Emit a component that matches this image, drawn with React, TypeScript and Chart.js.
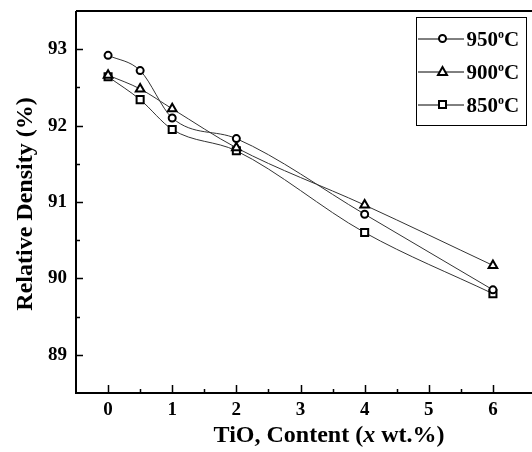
import { useEffect, useRef } from "react";
import { Chart, registerables } from "chart.js";

Chart.register(...registerables);

const contents = [0, 0.5, 1, 2, 4, 6];
const density950 = [92.92, 92.72, 92.1, 91.83, 90.84, 89.85];
const density900 = [92.66, 92.48, 92.22, 91.71, 90.96, 90.17];
const density850 = [92.64, 92.34, 91.95, 91.67, 90.6, 89.8];
const seriesLabels = ["950°C", "900°C", "850°C"];
const xTicks = [0, 1, 2, 3, 4, 5, 6];
const yTicks = [89, 90, 91, 92, 93];
const xTitleParts = ["TiO, Content (", "x", " wt.%)"];
const yTitle = "Relative Density (%)";

const FONT = "'Liberation Serif', 'DejaVu Serif', serif";

function drawMarker(ctx: CanvasRenderingContext2D, style: string, x: number, y: number) {
  ctx.save();
  ctx.lineWidth = 2;
  ctx.strokeStyle = "#000";
  ctx.fillStyle = "#fff";
  ctx.beginPath();
  if (style === "circle") {
    ctx.arc(x, y, 3.5, 0, Math.PI * 2);
  } else if (style === "triangle") {
    ctx.moveTo(x, y - 4.5);
    ctx.lineTo(x + 4.5, y + 3.5);
    ctx.lineTo(x - 4.5, y + 3.5);
    ctx.closePath();
  } else {
    ctx.rect(x - 3.5, y - 3.5, 7, 7);
  }
  ctx.fill();
  ctx.stroke();
  ctx.restore();
}

const framePlugin = {
  id: "frame",
  afterDraw(chart: any) {
    const ctx: CanvasRenderingContext2D = chart.ctx;
    const a = chart.chartArea;
    const xs = chart.scales.x;
    const ys = chart.scales.y;
    ctx.save();
    ctx.strokeStyle = "#000";
    ctx.lineWidth = 2;
    ctx.beginPath();
    ctx.moveTo(a.left, a.top);
    ctx.lineTo(chart.width, a.top);
    ctx.moveTo(a.left, a.top);
    ctx.lineTo(a.left, a.bottom);
    ctx.lineTo(chart.width, a.bottom);
    ctx.stroke();

    ctx.lineWidth = 1.5;
    ctx.beginPath();
    for (let v = 0; v <= 6.0001; v += 0.5) {
      const px = Math.round(xs.getPixelForValue(v)) + 0.5;
      const len = Number.isInteger(v) ? 8 : 4;
      ctx.moveTo(px, a.bottom);
      ctx.lineTo(px, a.bottom - len);
    }
    for (let v = 89; v <= 93.0001; v += 0.5) {
      const py = Math.round(ys.getPixelForValue(v)) + 0.5;
      const len = Number.isInteger(v) ? 7 : 4;
      ctx.moveTo(a.left, py);
      ctx.lineTo(a.left + len, py);
    }
    ctx.stroke();

    // axis titles
    ctx.fillStyle = "#000";
    ctx.textBaseline = "middle";
    ctx.textAlign = "center";
    ctx.save();
    ctx.translate(26, 204);
    ctx.rotate(-Math.PI / 2);
    ctx.font = `bold 24px ${FONT}`;
    ctx.fillText(yTitle, 0, 0);
    ctx.restore();

    const fonts = [`bold 24px ${FONT}`, `italic bold 24px ${FONT}`, `bold 24px ${FONT}`];
    let total = 0;
    const widths = xTitleParts.map((t, i) => {
      ctx.font = fonts[i];
      const w = ctx.measureText(t).width;
      total += w;
      return w;
    });
    let cx = 329 - total / 2;
    ctx.textAlign = "left";
    xTitleParts.forEach((t, i) => {
      ctx.font = fonts[i];
      ctx.fillText(t, cx, 436);
      cx += widths[i];
    });

    // legend
    const bx = 416, by = 17, bw = 110, bh = 108;
    ctx.fillStyle = "#fff";
    ctx.fillRect(bx, by, bw, bh);
    ctx.lineWidth = 1;
    ctx.strokeStyle = "#000";
    ctx.strokeRect(bx + 0.5, by + 0.5, bw, bh);
    const styles = ["circle", "triangle", "rect"];
    chart.data.datasets.forEach((ds: any, i: number) => {
      const cy = 38.5 + i * 33;
      ctx.strokeStyle = "#000";
      ctx.lineWidth = 1;
      ctx.beginPath();
      ctx.moveTo(418, cy + 0.5);
      ctx.lineTo(464, cy + 0.5);
      ctx.stroke();
      drawMarker(ctx, styles[i], 442.5, cy);
      const [main, rest] = String(ds.label).split("°");
      ctx.fillStyle = "#000";
      ctx.textAlign = "left";
      ctx.textBaseline = "alphabetic";
      ctx.font = `bold 21px ${FONT}`;
      let tx = 466.5;
      const base = cy + 7;
      ctx.fillText(main, tx, base);
      tx += ctx.measureText(main).width;
      ctx.font = `bold 12px ${FONT}`;
      ctx.fillText("o", tx, base - 8);
      tx += ctx.measureText("o").width;
      ctx.font = `bold 21px ${FONT}`;
      ctx.fillText(rest, tx, base);
    });
    ctx.restore();
  },
};

export default function App() {
  const ref = useRef<HTMLCanvasElement | null>(null);
  useEffect(() => {
    document.body.style.margin = "0";
    const canvas = ref.current!;
    const mk = (vals: number[]) => contents.map((x, i) => ({ x, y: vals[i] }));
    const common = {
      borderColor: "#333",
      borderWidth: 1,
      pointBackgroundColor: "#fff",
      pointBorderColor: "#000",
      pointBorderWidth: 2,
      cubicInterpolationMode: "monotone",
      fill: false,
    };
    const chart = new Chart(canvas, {
      type: "line",
      data: {
        datasets: [
          { ...common, label: seriesLabels[0], data: mk(density950), pointStyle: "circle", pointRadius: 3.5 },
          { ...common, label: seriesLabels[1], data: mk(density900), pointStyle: "triangle", pointRadius: 5 },
          { ...common, label: seriesLabels[2], data: mk(density850), pointStyle: "rect", pointRadius: 5 },
        ],
      },
      options: {
        animation: false,
        responsive: false,
        maintainAspectRatio: false,
        layout: { padding: { top: 11, left: 0, right: 0, bottom: 0 } },
        plugins: { legend: { display: false }, tooltip: { enabled: false } },
        scales: {
          x: {
            type: "linear",
            min: -0.5,
            max: 6.5,
            grid: { display: false, drawTicks: false },
            border: { display: false },
            afterBuildTicks: (s: any) => {
              s.ticks = xTicks.map((v) => ({ value: v }));
            },
            afterFit: (s: any) => {
              s.height = 59;
              s.paddingLeft = 0;
              s.paddingRight = 0;
            },
            ticks: {
              color: "#000",
              padding: 6,
              maxRotation: 0,
              autoSkip: false,
              font: { family: FONT, size: 19, weight: "bold" },
              callback: (v: any) => String(v),
            },
          },
          y: {
            type: "linear",
            min: 88.5,
            max: 93.5,
            grid: { display: false, drawTicks: false },
            border: { display: false },
            afterBuildTicks: (s: any) => {
              s.ticks = yTicks.map((v) => ({ value: v }));
            },
            afterFit: (s: any) => {
              s.width = 76;
              s.paddingTop = 0;
              s.paddingBottom = 0;
            },
            ticks: {
              color: "#000",
              padding: 9,
              autoSkip: false,
              font: { family: FONT, size: 19, weight: "bold" },
              callback: (v: any) => String(v),
            },
          },
        },
      },
      plugins: [framePlugin],
    } as any);
    return () => chart.destroy();
  }, []);
  return <canvas ref={ref} width={532} height={452} style={{ display: "block" }} />;
}
